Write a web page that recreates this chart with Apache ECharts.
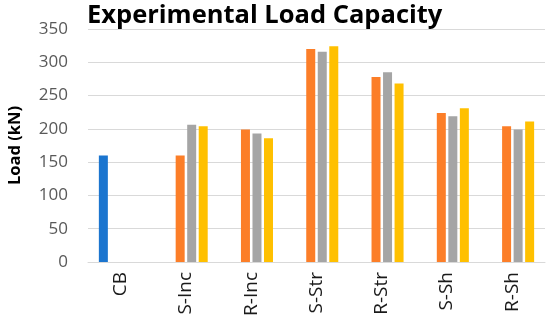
<!DOCTYPE html>
<html>
<head>
<meta charset="utf-8">
<script src="https://cdn.jsdelivr.net/npm/echarts@6/dist/echarts.min.js"></script>
<style>
html,body{margin:0;padding:0;background:#fff;}
#chart{width:550px;height:328px;}
</style>
</head>
<body>
<div id="chart"></div>
<script>
var categories = ['CB', 'S-Inc', 'R-Inc', 'S-Str', 'R-Str', 'S-Sh', 'R-Sh'];
var blueValues = [160, null, null, null, null, null, null];
var orangeValues = [null, 160, 199, 320, 278, 224, 204];
var grayValues = [null, 206, 193, 316, 285, 219, 199];
var yellowValues = [null, 204, 186, 324, 268, 231, 211];
var yTicks = [0, 50, 100, 150, 200, 250, 300, 350];

var chart = echarts.init(document.getElementById('chart'), null, {renderer: 'canvas'});
function bar(name, data, color) {
  return {
    name: name, type: 'bar', data: data, barWidth: 9, barGap: '28%',
    itemStyle: {color: color}
  };
}
chart.setOption({
  animation: false,
  backgroundColor: '#ffffff',
  textStyle: {fontFamily: 'Open Sans'},
  title: {
    text: 'Experimental Load Capacity',
    left: 82, top: -2,
    textStyle: {fontFamily: 'Open Sans', fontWeight: 'bold', fontSize: 25.5, color: '#000000'}
  },
  grid: {left: 88, right: 5, top: 29, bottom: 66, containLabel: false, outerBoundsMode: 'none'},
  xAxis: {
    type: 'category',
    data: categories,
    axisLine: {lineStyle: {color: '#D9D9D9', width: 1}},
    axisTick: {show: false},
    axisLabel: {rotate: 90, fontSize: 19, color: '#1a1a1a', margin: 10, fontFamily: 'Open Sans'}
  },
  yAxis: {
    type: 'value',
    min: 0, max: 350, interval: 50,
    name: 'Load (kN)',
    nameLocation: 'middle',
    nameGap: 64,
    nameTextStyle: {fontFamily: 'Open Sans', fontWeight: 'bold', fontSize: 16.5, color: '#000000'},
    axisLine: {show: false},
    axisTick: {show: false},
    splitLine: {lineStyle: {color: '#D9D9D9', width: 1}},
    axisLabel: {fontSize: 17, color: '#595959', margin: 20, fontFamily: 'Open Sans',
      formatter: function (v) { return yTicks.indexOf(v) >= 0 ? String(v) : ''; }}
  },
  series: [
    bar('Blue', blueValues, '#1B75CF'),
    bar('Orange', orangeValues, '#FC7E28'),
    bar('Gray', grayValues, '#A5A5A5'),
    bar('Yellow', yellowValues, '#FFC000')
  ]
});
</script>
</body>
</html>
